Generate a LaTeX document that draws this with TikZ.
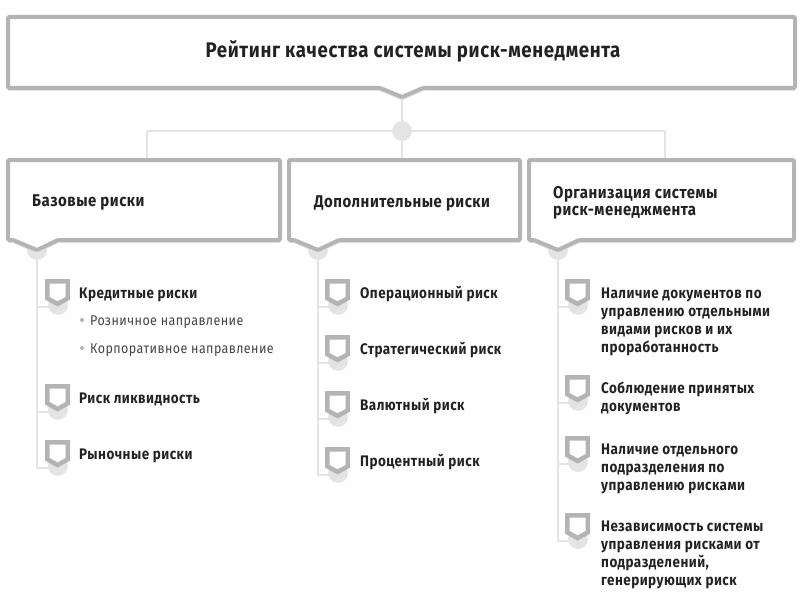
\documentclass[tikz,border=0pt]{standalone}
\usepackage{fontspec}
\setmainfont{Fira Sans}[FakeStretch=0.88,LetterSpace=3]
\definecolor{framegray}{HTML}{B4B4B4}
\definecolor{shadegray}{HTML}{E4E4E4}
\definecolor{inkgray}{HTML}{222222}
\definecolor{subgray}{HTML}{444444}
\tikzset{
  framed/.style={draw=framegray,line width=4pt,fill=white,rounded corners=1pt,line join=round},
  shade/.style={draw=shadegray,line width=3pt,rounded corners=1pt},
  shield/.style={draw=framegray,line width=4.5pt,fill=white,line join=miter},
  conn/.style={draw=shadegray,line width=2pt},
  titletext/.style={text=inkgray,font=\fontsize{21.2}{24}\selectfont\bfseries,inner sep=0pt,yshift=-1pt},
  headtext/.style={anchor=west,align=left,text=inkgray,font=\fontsize{17}{17}\selectfont\bfseries,inner sep=0pt,yshift=-1.5pt},
  itemtext/.style={anchor=west,align=left,text=inkgray,font=\fontsize{15.3}{18}\selectfont\bfseries,inner sep=0pt,yshift=-1.5pt},
  subtext/.style={anchor=west,text=subgray,font=\fontsize{14.2}{18}\selectfont,inner sep=0pt,yshift=-1.5pt},
  hubdot/.style={circle,fill=shadegray,inner sep=0pt,minimum size=20pt},
  itemdot/.style={circle,fill=shadegray,inner sep=0pt,minimum size=20pt},
  subdot/.style={circle,fill=framegray,inner sep=0pt,minimum size=4pt},
  corner/.style={inner sep=0pt,minimum size=0pt}
}
\begin{document}
\begin{tikzpicture}[x=1pt,y=-1pt]
    \useasboundingbox (0,0) rectangle (807,602);
    %-----hub and the three branches
    \node[hubdot] (hub) at (402,131) {};
    \node[corner] (top) at (402,92) {};
    \node[corner] (hubL) at (147,131) {};
    \node[corner] (hubR) at (665,131) {};
    \node[corner] (downL) at (147,160) {};
    \node[corner] (downM) at (402,160) {};
    \node[corner] (downR) at (665,160) {};
    %-----column heads
    \node[itemdot] (baz) at (37,250) {};
    \node[itemdot] (dop) at (318,250) {};
    \node[itemdot] (org) at (558,250) {};
    %-----items
    \foreach \name/\x/\y in {cred/58/305, likv/58/410, rynok/58/466,
        oper/338/305, strat/338/361, val/338/417, proc/338/473,
        nal/578/305, sobl/578/401, otd/578/462, nez/578/539}
        \node[itemdot] (\name) at (\x,\y) {};

    \foreach \from/\to in {top/hub, hub/downM, hubL/hubR, hubL/downL, hubR/downR}
    \draw[conn] (\from.center) -- (\to.center);

    \foreach \from/\to/\last in {baz/cred/rynok, dop/oper/proc, org/nal/nez}
    \draw[conn] (\from.center) |- ([yshift=-2pt]\last.center);

    \foreach \from/\to in {baz/cred, baz/likv, baz/rynok, dop/oper, dop/strat, dop/val, dop/proc,
        org/nal, org/sobl, org/otd, org/nez}
    \draw[conn] (\from.center |- \to.center) ++(0,2) -- ([yshift=-2pt]\to.center);

    %-----frames
    \draw[shade] (8,89.5) -- (380,89.5) -- (402,99) -- (423,89.5) -- (795,89.5);
    \draw[framed] (8,17) -- (795,17) -- (795,88) -- (423,88) -- (402,97) -- (380,88) -- (8,88) -- cycle;
    \foreach \l/\r/\a in {8/280/37, 289/520/318, 529/794/558}{
        \draw[shade] (\l,241.5) -- (\a-24,241.5) -- (\a,252) -- (\a+21,241.5) -- (\r,241.5);
        \draw[framed] (\l,160) -- (\r,160) -- (\r,240) -- (\a+21,240) -- (\a,250) -- (\a-24,240) -- (\l,240) -- cycle;
    }
    %-----item marks
    \foreach \x/\y in {47.3/281.3, 47.3/386.3, 47.3/442.3, 327.3/281.3, 327.3/337.3, 327.3/393.3, 327.3/449.3,
        567.3/281.3, 567.3/377.3, 567.3/438.3, 567.3/515.3}
    \draw[shield] (\x,\y) -- (\x+20.6,\y) -- (\x+20.6,\y+17) -- (\x+10.3,\y+22.7) -- (\x,\y+17) -- cycle;

    \node[titletext] (title) at (413,50) {Рейтинг качества системы риск-менедмента};
    \node[headtext] (bazT) at (32,201) {Базовые риски};
    \node[headtext] (dopT) at (314,202) {Дополнительные риски};
    \node[headtext] (orgT) at (553,201.5) {Организация системы\\риск-менеджмента};

    \node[itemtext] (credT) at (79,293) {Кредитные риски};
    \node[subdot] (s1) at (82,320) {};
    \node[subtext] (s1T) at (90,321) {Розничное направление};
    \node[subdot] (s2) at (82,348) {};
    \node[subtext] (s2T) at (90,349) {Корпоративное направление};
    \node[itemtext] (likvT) at (79,398) {Риск ликвидность};
    \node[itemtext] (rynokT) at (79,454) {Рыночные риски};

    \node[itemtext] (operT) at (360,293) {Операционный риск};
    \node[itemtext] (stratT) at (360,349) {Стратегический риск};
    \node[itemtext] (valT) at (360,405) {Валютный риск};
    \node[itemtext] (procT) at (360,461) {Процентный риск};

    \node[itemtext] (nalT) at (601,320) {Наличие документов по\\управлению отдельными\\видами рисков и их\\проработанность};
    \node[itemtext] (soblT) at (601,397) {Соблюдение принятых\\документов};
    \node[itemtext] (otdT) at (601,467) {Наличие отдельного\\подразделения по\\управлению рисками};
    \node[itemtext] (nezT) at (601,553) {Независимость системы\\управления рисками от\\подразделений,\\генерирующих риск};
\end{tikzpicture}
\end{document}
